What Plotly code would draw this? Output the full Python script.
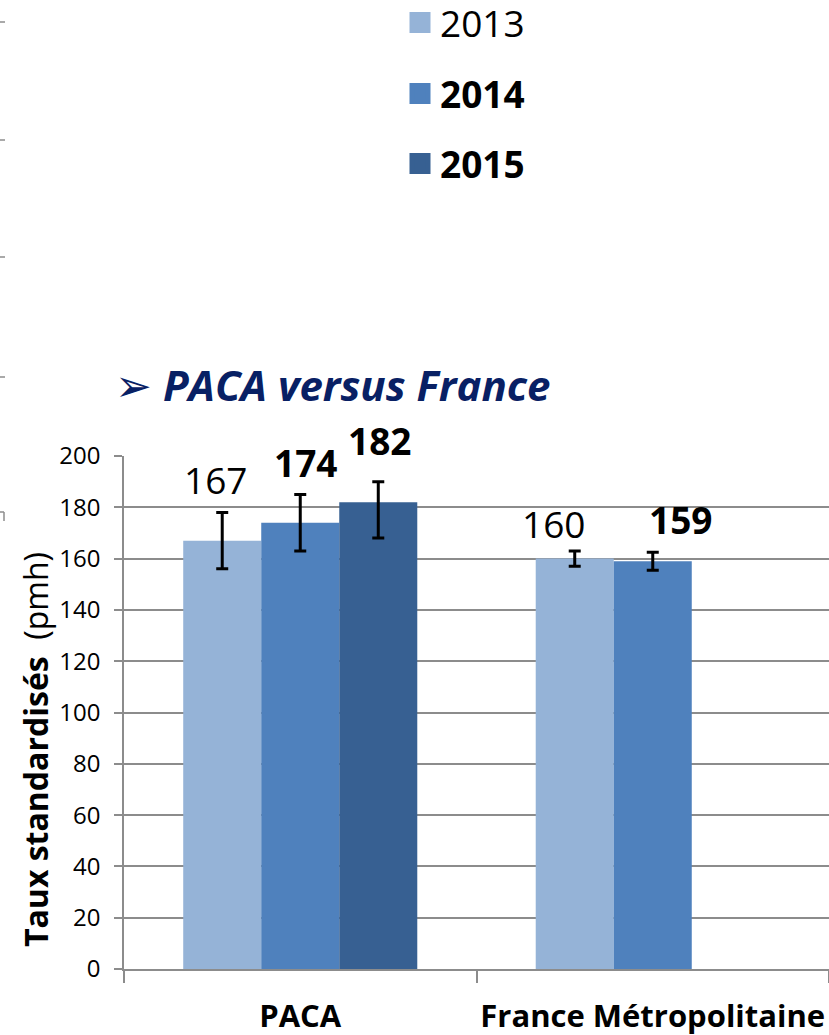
import plotly.graph_objects as go

# ---- data ----
categories = ["PACA", "France Métropolitaine"]
years = ["2013", "2014", "2015"]
values_2013 = [167, 160]
values_2014 = [174, 159]
values_2015 = [182, None]
err_plus_2013 = [11, 3]
err_minus_2013 = [11, 3]
err_plus_2014 = [11, 3.5]
err_minus_2014 = [11, 3.5]
err_plus_2015 = [8, None]
err_minus_2015 = [14, None]
bold_labels = [False, True, True]

# ---- style ----
colors = ["#95B3D7", "#4F81BD", "#376092"]
FONT = "Open Sans"
GRID = "#8C8C8C"
W, H = 829, 1035
ML, MR, MT, MB = 124, 0, 456, 66
PW, PH = W - ML - MR, H - MT - MB
BARGAP = 0.336
BAR_PX = (PW / len(categories)) * (1 - BARGAP) / len(years)
# manual nudges of the value labels (px), per year then per category
label_dx = [[-7, -21], [5, 28], [1, 0]]
label_dy = [[5, 0], [4, 5], [14, 0]]


def px_x(x):
    return (x - ML) / PW


def px_y(y):
    return (H - MB - y) / PH


series = [
    (values_2013, err_plus_2013, err_minus_2013),
    (values_2014, err_plus_2014, err_minus_2014),
    (values_2015, err_plus_2015, err_minus_2015),
]

fig = go.Figure()
legend_ids = ["legend", "legend2", "legend3"]
annotations = []
for i, (yr, (vals, ep, em)) in enumerate(zip(years, series)):
    name = f"<b>{yr}</b>" if bold_labels[i] else yr
    fig.add_trace(go.Bar(
        x=categories, y=vals, name=name, offsetgroup=yr, showlegend=False,
        marker=dict(color=colors[i], line=dict(width=0)),
        error_y=dict(type="data", symmetric=False, array=ep, arrayminus=em,
                     color="black", thickness=3, width=6),
    ))
    # legend entry (square swatch)
    fig.add_trace(go.Scatter(
        x=[None], y=[None], mode="markers", name=name, legend=legend_ids[i],
        marker=dict(symbol="square", size=16, color=colors[i],
                    line=dict(color=colors[i], width=5)),
        hoverinfo="skip",
    ))
    for j, (cat, v, e) in enumerate(zip(categories, vals, ep)):
        if v is None:
            continue
        annotations.append(dict(
            x=cat, y=v + e, xref="x", yref="y",
            text=f"<b>{v}</b>" if bold_labels[i] else str(v),
            showarrow=False, xanchor="center", yanchor="bottom",
            xshift=(i - 1) * BAR_PX + label_dx[i][j], yshift=label_dy[i][j],
            font=dict(family=FONT, size=37, color="black"),
        ))

legend_y = [23, 94, 164]
legend_common = dict(x=px_x(400), xanchor="left", yanchor="middle",
                     font=dict(family=FONT, size=37, color="black"),
                     bgcolor="rgba(0,0,0,0)", borderwidth=0)

shapes = []
for yy in [22, 140, 257, 377]:
    shapes.append(dict(type="line", xref="paper", yref="paper",
                       x0=px_x(0), x1=px_x(5), y0=px_y(yy), y1=px_y(yy),
                       line=dict(color=GRID, width=1.5)))
shapes.append(dict(type="line", xref="paper", yref="paper",
                   x0=px_x(0), x1=px_x(4), y0=px_y(512), y1=px_y(512),
                   line=dict(color=GRID, width=1.5)))
shapes.append(dict(type="line", xref="paper", yref="paper",
                   x0=px_x(4), x1=px_x(4), y0=px_y(512), y1=px_y(521),
                   line=dict(color=GRID, width=1.5)))

annotations += [
    dict(text='<span style="font-size:44px">➢</span> <b><i>PACA versus France</i></b>',
         xref="paper", yref="paper",
         x=px_x(113), y=px_y(384), xanchor="left", yanchor="middle", showarrow=False,
         font=dict(family=FONT, size=42, color="#082064")),
    dict(text="<b>Taux standardisés</b>  (pmh)", xref="paper", yref="paper",
         x=px_x(35), y=px_y(750), xanchor="center", yanchor="middle", showarrow=False,
         textangle=-90, font=dict(family=FONT, size=32, color="black")),
]

fig.update_layout(
    template="none",
    width=W, height=H, autosize=False,
    margin=dict(l=ML, r=MR, t=MT, b=MB, pad=0, autoexpand=False),
    paper_bgcolor="white", plot_bgcolor="white",
    barmode="group", bargap=BARGAP, bargroupgap=0,
    font=dict(family=FONT, color="black"),
    legend=dict(y=px_y(legend_y[0]), **legend_common),
    legend2=dict(y=px_y(legend_y[1]), **legend_common),
    legend3=dict(y=px_y(legend_y[2]), **legend_common),
    shapes=shapes,
    annotations=annotations,
    xaxis=dict(type="category", range=[-0.5, 1.5], showgrid=False,
               automargin=False, tickangle=0,
               showline=True, linecolor=GRID, linewidth=1.5,
               ticks="outside", tickson="boundaries", ticklen=12,
               tickcolor=GRID, tickwidth=1.5, ticklabelstandoff=19,
               tickfont=dict(family=FONT, size=31, color="black", weight="bold")),
    yaxis=dict(range=[0, 200], tick0=0, dtick=20, showgrid=True,
               automargin=False,
               gridcolor=GRID, gridwidth=1.5, zeroline=False,
               showline=True, linecolor=GRID, linewidth=1.5,
               ticks="outside", ticklen=8, tickcolor=GRID, tickwidth=1.5,
               ticklabelstandoff=9,
               tickfont=dict(family=FONT, size=24, color="black")),
)

fig.write_html("out.html", config={"displayModeBar": False},
               post_script="document.body.style.margin='0px';")
